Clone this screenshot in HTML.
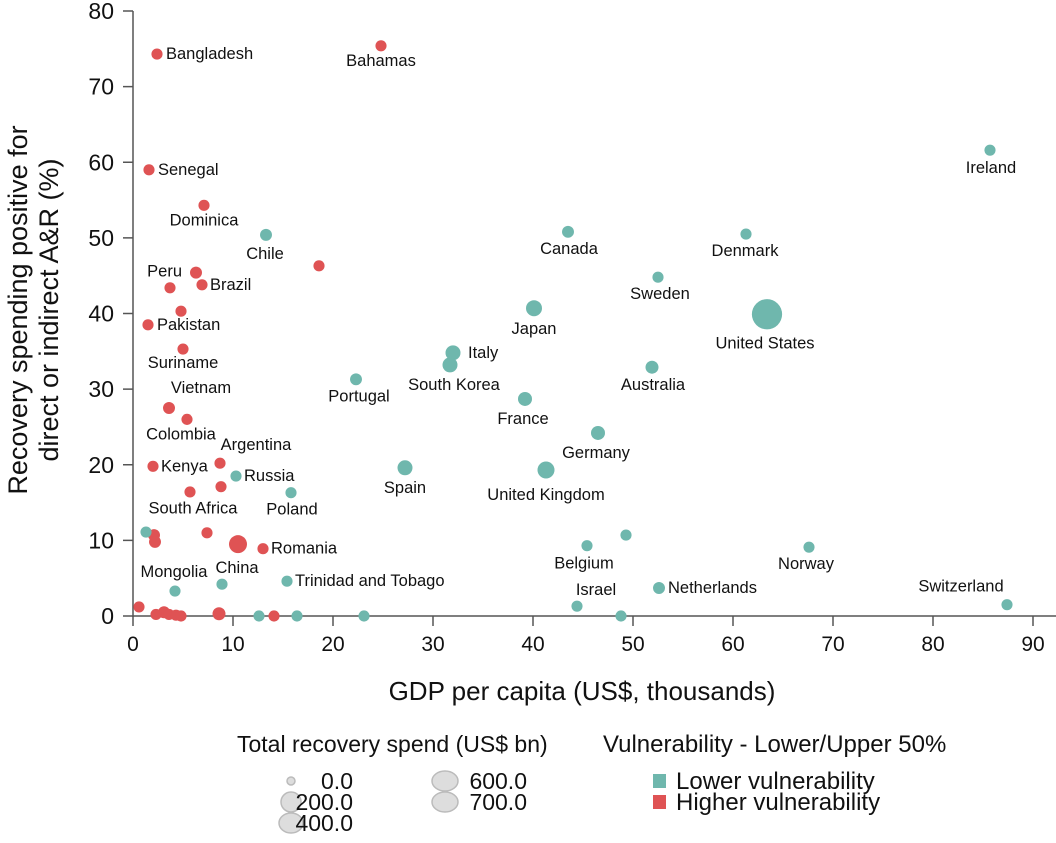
<!DOCTYPE html>
<html><head><meta charset="utf-8"><style>
body{margin:0;background:#fff;font-family:"Liberation Sans",sans-serif}
svg text{font-family:"Liberation Sans",sans-serif;fill:#111}
</style></head><body>
<svg id="c" width="1056" height="838"></svg>
<script>
const names=["Bangladesh","Bahamas","Senegal","Dominica","","Peru","","Brazil","","Pakistan","Suriname","Vietnam","Colombia","Kenya","Argentina","","South Africa","","","","China","Romania","","","","","","","","",
"Ireland","Chile","Canada","Denmark","Sweden","Japan","United States","Italy","South Korea","Australia","Portugal","France","Germany","Spain","United Kingdom","Russia","Poland","","Belgium","","Norway","Mongolia","","Trinidad and Tobago","Israel","Netherlands","Switzerland","","","",""];
const gdp=[2.4,24.8,1.6,7.1,18.6,6.3,3.7,6.9,4.8,1.5,5.0,3.6,5.4,2.0,8.7,5.7,8.8,2.1,2.2,7.4,10.5,13.0,0.6,2.3,3.1,3.6,4.3,4.8,8.6,14.1,
85.7,13.3,43.5,61.3,52.5,40.1,63.4,32.0,31.7,51.9,22.3,39.2,46.5,27.2,41.3,10.3,15.8,1.3,45.4,49.3,67.6,4.2,8.9,15.4,44.4,52.6,87.4,12.6,16.4,23.1,48.8];
const recov=[74.3,75.4,59.0,54.3,46.3,45.4,43.4,43.8,40.3,38.5,35.3,27.5,26.0,19.8,20.2,16.4,17.1,10.7,9.8,11.0,9.5,8.9,1.2,0.2,0.5,0.2,0.1,0.0,0.3,0.0,
61.6,50.4,50.8,50.5,44.8,40.7,39.9,34.8,33.2,32.9,31.3,28.7,24.2,19.6,19.3,18.5,16.3,11.1,9.3,10.7,9.1,3.3,4.2,4.6,1.3,3.7,1.5,0,0,0,0];
const spend=[2,2,2,2,2,6,2,2,2,2,2,6,2,2,2,2,2,6,6,2,100,2,2,2,6,2,2,2,14,2,
2,6,6,2,2,56,640,39,39,14,6,25,25,39,77,2,2,2,2,2,2,2,2,2,2,6,2,2,2,2,2];
const vuln=Array(30).fill("H").concat(Array(31).fill("L"));
const xTicks=[0,10,20,30,40,50,60,70,80,90];
const yTicks=[0,10,20,30,40,50,60,70,80];
const lab={"Bangladesh":[9,5,"start"],"Bahamas":[0,20,"middle"],"Senegal":[9,5,"start"],"Dominica":[0,20,"middle"],"Peru":[-14,4,"end"],"Brazil":[8,5,"start"],"Pakistan":[9,5,"start"],"Suriname":[0,19,"middle"],"Vietnam":[32,-15,"middle"],"Colombia":[-6,20,"middle"],"Kenya":[8,5,"start"],"Argentina":[36,-13,"middle"],"South Africa":[-28,27,"middle"],"China":[-1,29,"middle"],"Romania":[8,5,"start"],
"Ireland":[1,23,"middle"],"Chile":[-1,24,"middle"],"Canada":[1,22,"middle"],"Denmark":[-1,22,"middle"],"Sweden":[2,22,"middle"],"Japan":[0,26,"middle"],"United States":[-2,34,"middle"],"Italy":[15,5,"start"],"South Korea":[4,25,"middle"],"Australia":[1,23,"middle"],"Portugal":[3,22,"middle"],"France":[-2,25,"middle"],"Germany":[-2,25,"middle"],"Spain":[0,25,"middle"],"United Kingdom":[0,30,"middle"],"Russia":[8,5,"start"],"Poland":[1,22,"middle"],"Belgium":[-3,23,"middle"],"Norway":[-3,22,"middle"],"Mongolia":[-1,-14,"middle"],"Trinidad and Tobago":[8,5,"start"],"Israel":[19,-11,"middle"],"Netherlands":[9,5,"start"],"Switzerland":[-46,-13,"middle"]};
const X0=133,X1=1033,Y0=616,Y1=11;
const sx=v=>X0+(v/90)*(X1-X0), sy=v=>Y0-(v/80)*(Y0-Y1), sr=s=>5+Math.sqrt(s)*0.4;
const svg=document.getElementById('c'),NS="http://www.w3.org/2000/svg";
function mk(t,a,p){const e=document.createElementNS(NS,t);for(const k in a)e.setAttribute(k,a[k]);(p||svg).appendChild(e);return e;}
let e;
e=mk('line',{x1:X0,y1:Y1,x2:X0,y2:Y0+1,stroke:'#555','stroke-width':1.5});


e=mk('line',{x1:X0,y1:Y0,x2:1056,y2:Y0,stroke:'#555','stroke-width':1.5});


yTicks.forEach(v=>{mk('line',{x1:123,x2:X0,y1:sy(v),y2:sy(v),stroke:'#555','stroke-width':1.5});
e=mk('text',{x:114,y:sy(v)+8,'text-anchor':'end','font-size':23});e.textContent=v;

});
xTicks.forEach(v=>{mk('line',{x1:sx(v),x2:sx(v),y1:Y0,y2:Y0+10,stroke:'#555','stroke-width':1.5});
e=mk('text',{x:sx(v),y:651,'text-anchor':'middle','font-size':21});e.textContent=v;

});
e=mk('text',{x:582,y:700,'text-anchor':'middle','font-size':26});e.textContent="GDP per capita (US$, thousands)";


const yt=mk('text',{transform:'translate(27,310) rotate(-90)','text-anchor':'middle','font-size':27});


mk('tspan',{x:0,dy:0},yt).textContent="Recovery spending positive for";
mk('tspan',{x:0,dy:31},yt).textContent="direct or indirect A&R (%)";
const order=gdp.map((_,i)=>i).sort((a,b)=>spend[b]-spend[a]);
order.forEach(i=>{e=mk('circle',{cx:sx(gdp[i]),cy:sy(recov[i]),r:sr(spend[i]),fill:vuln[i]=="H"?"#df5354":"#6fb7ad"});

});
names.forEach((n,i)=>{if(!n||!lab[n])return;const o=lab[n];
e=mk('text',{x:sx(gdp[i])+o[0],y:sy(recov[i])+o[1],'text-anchor':o[2],'font-size':16.5});e.textContent=n;

});
e=mk('text',{x:237,y:752,'font-size':23});e.textContent="Total recovery spend (US$ bn)";


const lg=[[291,781,4,"0.0",353],[291,802,10,"200.0",353],[291,823,12,"400.0",353],[445,781,13,"600.0",527],[445,802,13,"700.0",527]];
lg.forEach(l=>{mk('ellipse',{cx:l[0],cy:l[1],rx:l[2],ry:Math.min(l[2],10),fill:'#ddd',stroke:'#bbb','stroke-width':1.5});
e=mk('text',{x:l[4],y:l[1]+8,'text-anchor':'end','font-size':23});e.textContent=l[3];

});
e=mk('text',{x:603,y:752,'font-size':24});e.textContent="Vulnerability - Lower/Upper 50%";


[["#6fb7ad","Lower vulnerability",782],["#df5354","Higher vulnerability",803]].forEach(l=>{
mk('rect',{x:653,y:l[2]-8,width:13,height:14,fill:l[0]});
e=mk('text',{x:676,y:l[2]+7,'font-size':24});e.textContent=l[1];

});
</script>
</body></html>
